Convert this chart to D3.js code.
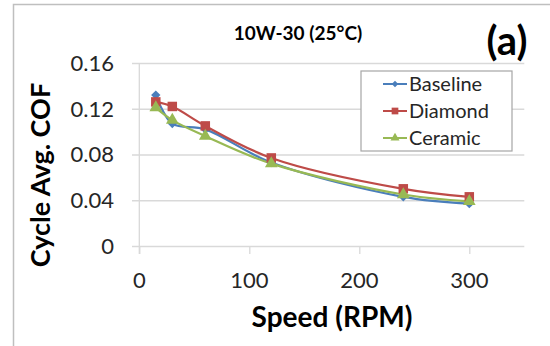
<!DOCTYPE html>
<html><head><meta charset="utf-8">
<script src="https://cdn.jsdelivr.net/npm/d3@7"></script>
<style>body{margin:0;background:#fff}svg{display:block}</style>
</head><body><svg id="c" width="550" height="346"></svg>
<script>
const speeds = [15, 30, 60, 120, 240, 300];
const baseline = [0.132, 0.107, 0.102, 0.073, 0.043, 0.037];
const diamond  = [0.126, 0.122, 0.105, 0.077, 0.050, 0.043];
const ceramic  = [0.121, 0.110, 0.096, 0.072, 0.045, 0.039];
const seriesNames = ["Baseline", "Diamond", "Ceramic"];
const seriesColors = ["#4a7ebb", "#be4b48", "#98b954"];
const xTicks = [0, 100, 200, 300];
const yTicks = [0, 0.04, 0.08, 0.12, 0.16];
const title = "10W-30 (25\u00b0C)";
const panel = "(a)";
const xTitle = "Speed (RPM)";
const yTitle = "Cycle Avg. COF";

const font = "Lato, 'Open Sans', sans-serif";
const svg = d3.select("#c");
const x = d3.scaleLinear().domain([0, 350]).range([139.3, 524.3]);
const y = d3.scaleLinear().domain([0, 0.16]).range([246, 63]);

// frame
svg.append("path").attr("d", "M13.5,346 V4.5 H550").attr("fill","none").attr("stroke","#bfbfbf").attr("stroke-width",1.5);

// gridlines via axis
const gy = svg.append("g").attr("transform", `translate(${x(350)},0)`)
  .call(d3.axisLeft(y).tickValues(yTicks).tickSize(x(350) - 132).tickFormat(""));
gy.select(".domain").remove();
gy.selectAll("line").attr("stroke", "#d9d9d9").attr("stroke-width", 1.3);

// y axis line
svg.append("line").attr("x1", x(0)).attr("x2", x(0)).attr("y1", y(0.16)).attr("y2", 254)
  .attr("stroke", "#d9d9d9").attr("stroke-width", 1.3);

// x ticks
const gx = svg.append("g").attr("transform", `translate(0,${y(0)})`)
  .call(d3.axisBottom(x).tickValues(xTicks).tickSize(8).tickFormat(""));
gx.select(".domain").remove();
gx.selectAll("line").attr("stroke", "#d9d9d9").attr("stroke-width", 1.3);

// tick labels
svg.append("g").selectAll("text").data(yTicks).join("text")
  .attr("x", 114).attr("y", d => y(d)).attr("dy", "0.36em").attr("text-anchor", "end")
  .attr("font-family", font).attr("font-size", 22).attr("fill", "#262626")
  .text(d => d === 0 ? "0" : d.toFixed(2));
svg.append("g").selectAll("text").data(xTicks).join("text")
  .attr("x", d => x(d)).attr("y", 288).attr("text-anchor", "middle")
  .attr("font-family", font).attr("font-size", 22).attr("fill", "#262626")
  .text(d => d);

// titles
svg.append("text").attr("x", 298).attr("y", 40).attr("text-anchor", "middle")
  .attr("font-family", font).attr("font-weight", "bold").attr("font-size", 19).attr("fill", "#000").text(title);
svg.append("text").attr("x", 507).attr("y", 55).attr("text-anchor", "middle")
  .attr("font-family", font).attr("font-weight", "bold").attr("font-size", 40).attr("fill", "#000").text(panel);
svg.append("text").attr("x", 332).attr("y", 327).attr("text-anchor", "middle")
  .attr("font-family", font).attr("font-weight", "bold").attr("font-size", 28).attr("fill", "#000").text(xTitle);
svg.append("text").attr("transform", "translate(50,175) rotate(-90)").attr("text-anchor", "middle")
  .attr("font-family", font).attr("font-weight", "bold").attr("font-size", 27).attr("fill", "#000").text(yTitle);

// series
const data = [baseline, diamond, ceramic];
const line = d3.line().x((d, i) => x(speeds[i])).y(d => y(d)).curve(d3.curveCatmullRom.alpha(0.5));
const symbols = [d3.symbolDiamond2, d3.symbolSquare, d3.symbolTriangle];
const sizes = [55, 90, 70];
data.forEach((vals, k) => {
  svg.append("path").datum(vals).attr("d", line).attr("fill", "none")
    .attr("stroke", seriesColors[k]).attr("stroke-width", 2.2);
});
data.forEach((vals, k) => {
  svg.append("g").selectAll("path").data(vals).join("path")
    .attr("transform", (d, i) => `translate(${x(speeds[i])},${y(d)})`)
    .attr("d", d3.symbol().type(symbols[k]).size(sizes[k]))
    .attr("fill", seriesColors[k]);
});

// legend
svg.append("rect").attr("x", 361).attr("y", 71).attr("width", 151).attr("height", 80)
  .attr("fill", "#fff").attr("stroke", "#a6a6a6").attr("stroke-width", 1.2);
const legY = [84, 111, 138];
seriesNames.forEach((n, k) => {
  svg.append("line").attr("x1", 383).attr("x2", 407).attr("y1", legY[k]).attr("y2", legY[k])
    .attr("stroke", seriesColors[k]).attr("stroke-width", 2);
  svg.append("path").attr("transform", `translate(395,${legY[k]})`)
    .attr("d", d3.symbol().type(symbols[k]).size(sizes[k] * 0.5)).attr("fill", seriesColors[k]);
  svg.append("text").attr("x", 409).attr("y", legY[k]).attr("dy", "0.36em")
    .attr("font-family", font).attr("font-size", 20).attr("fill", "#262626").text(n);
});
</script></body></html>
